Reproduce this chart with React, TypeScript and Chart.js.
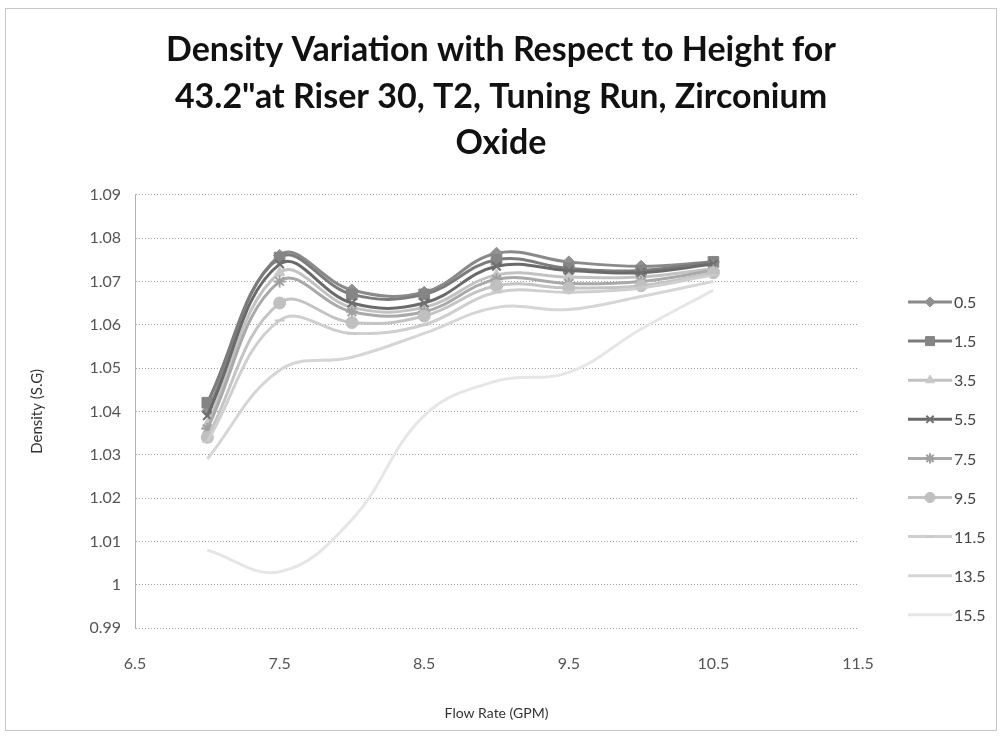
import React, { useEffect, useRef } from "react";
import { Chart, registerables } from "chart.js";
import { drawPoint } from "chart.js/helpers";

Chart.register(...registerables);

const flowRates = [7, 7.5, 8, 8.5, 9, 9.5, 10, 10.5];
const xTicks = [6.5, 7.5, 8.5, 9.5, 10.5, 11.5];

const heightLabels = ["0.5", "1.5", "3.5", "5.5", "7.5", "9.5", "11.5", "13.5", "15.5"];

const h0_5 = [1.040, 1.076, 1.068, 1.0675, 1.0765, 1.0745, 1.0735, 1.0745];
const h1_5 = [1.042, 1.0755, 1.067, 1.067, 1.075, 1.073, 1.0725, 1.0745];
const h3_5 = [1.037, 1.072, 1.064, 1.064, 1.0715, 1.071, 1.071, 1.073];
const h5_5 = [1.039, 1.074, 1.065, 1.065, 1.0735, 1.0725, 1.072, 1.074];
const h7_5 = [1.036, 1.070, 1.063, 1.063, 1.0705, 1.0695, 1.070, 1.0725];
const h9_5 = [1.034, 1.065, 1.0605, 1.062, 1.069, 1.0685, 1.069, 1.072];
const h11_5 = [1.033, 1.061, 1.058, 1.060, 1.0675, 1.0675, 1.0685, 1.0715];
const h13_5 = [1.029, 1.0495, 1.0525, 1.058, 1.064, 1.0635, 1.0665, 1.070];
const h15_5 = [1.008, 1.003, 1.015, 1.039, 1.047, 1.049, 1.059, 1.068];

const seriesValues = [h0_5, h1_5, h3_5, h5_5, h7_5, h9_5, h11_5, h13_5, h15_5];

const lineColors = ["#8a8a8a", "#7c7c7c", "#c2c2c2", "#6a6a6a", "#a9a9a9", "#c4c4c4", "#cfcfcf", "#d6d6d6", "#e6e6e6"];
const markerColors = ["#909090", "#858585", "#c8c8c8", "#707070", "#a0a0a0", "#c0c0c0", "#c8c8c8", "#d6d6d6", "#e6e6e6"];
const markerStyles = ["rectRot", "rect", "triangle", "crossRot", "star", "circle", "line", "circle", "circle"];
const markerRadius = [6, 7.5, 6, 6, 6, 6, 5, 0, 0];

const FONT = "Lato, 'Open Sans', sans-serif";

const legendPlugin = {
  id: "sideLegend",
  afterDraw(chart: any) {
    const ctx = chart.ctx;
    ctx.save();
    chart.data.datasets.forEach((ds: any, i: number) => {
      const y = 302 + i * 39.1;
      ctx.strokeStyle = ds.borderColor;
      ctx.lineWidth = 3;
      ctx.beginPath();
      ctx.moveTo(908, y);
      ctx.lineTo(952, y);
      ctx.stroke();
      if (ds.pointRadius > 0) {
        ctx.fillStyle = ds.pointBackgroundColor;
        ctx.strokeStyle = ds.pointBorderColor;
        ctx.lineWidth = ds.pointBorderWidth;
        drawPoint(
          ctx,
          { pointStyle: ds.pointStyle, radius: ds.pointRadius * 0.85, rotation: 0, borderWidth: ds.pointBorderWidth },
          930,
          y
        );
      }
      ctx.fillStyle = "#444";
      ctx.font = `16px ${FONT}`;
      ctx.textBaseline = "middle";
      ctx.textAlign = "left";
      ctx.fillText(ds.label, 954, y + 1);
    });
    ctx.restore();
  },
};

const borderPlugin = {
  id: "outerBorder",
  beforeDraw(chart: any) {
    const ctx = chart.ctx;
    ctx.save();
    ctx.fillStyle = "#ffffff";
    ctx.fillRect(0, 0, chart.width, chart.height);
    ctx.strokeStyle = "#c8c8c8";
    ctx.lineWidth = 1;
    ctx.strokeRect(5.5, 8.5, 991, 722);
    ctx.restore();
  },
};

export default function App() {
  const canvasRef = useRef<HTMLCanvasElement | null>(null);

  useEffect(() => {
    document.body.style.margin = "0";
    const canvas = canvasRef.current;
    if (!canvas) return;

    const datasets = heightLabels.map((label, i) => ({
      label,
      data: flowRates.map((x, j) => ({ x, y: seriesValues[i][j] })),
      borderColor: lineColors[i],
      backgroundColor: markerColors[i],
      borderWidth: 3,
      tension: 0.4,
      pointStyle: markerStyles[i],
      pointRadius: markerRadius[i],
      pointBackgroundColor: markerColors[i],
      pointBorderColor: markerColors[i],
      pointBorderWidth: markerStyles[i] === "crossRot" || markerStyles[i] === "star" || markerStyles[i] === "line" ? 2 : 1,
      fill: false,
      order: 9 - i,
      yAxisID: "y",
    }));

    const chart = new Chart(canvas, {
      type: "line",
      data: { datasets },
      plugins: [borderPlugin, legendPlugin],
      options: {
        animation: false,
        responsive: true,
        maintainAspectRatio: false,
        layout: { padding: { top: 4, left: 28, right: 28, bottom: 14 } },
        plugins: {
          legend: { display: false },
          tooltip: { enabled: false },
          title: {
            display: true,
            text: [
              "Density Variation with Respect to Height for",
              '43.2"at Riser 30, T2, Tuning Run, Zirconium',
              "Oxide",
            ],
            color: "#111",
            font: { family: FONT, size: 34, weight: "bold", lineHeight: 1.37 },
            padding: { top: 23, bottom: 28 },
          },
        },
        scales: {
          x: {
            type: "linear",
            min: 6.5,
            max: 11.5,
            afterBuildTicks: (scale: any) => {
              scale.ticks = xTicks.map((v) => ({ value: v }));
            },
            afterFit: (scale: any) => {
              scale.height = 736 - 628 - 14;
            },
            grid: { display: false, drawTicks: false },
            border: { display: false },
            ticks: {
              color: "#555",
              font: { family: FONT, size: 16 },
              padding: 26,
              maxRotation: 0,
              callback: (v: any) => String(v),
            },
            title: {
              display: true,
              text: "Flow Rate (GPM)",
              color: "#333",
              font: { family: FONT, size: 14 },
              padding: { top: 0, bottom: 0 },
            },
          },
          y: {
            position: "left",
            min: 0.99,
            max: 1.09,
            afterFit: (scale: any) => {
              scale.width = 135 - 28;
            },
            ticks: {
              stepSize: 0.01,
              color: "#555",
              font: { family: FONT, size: 16 },
              padding: 14,
              callback: (v: any) => String(Number(Number(v).toFixed(2))),
            },
            grid: {
              color: "#a0a0a0",
              lineWidth: 1,
              drawTicks: false,
            },
            border: { display: true, color: "#b0b0b0", dash: [1, 2] },
            title: {
              display: true,
              text: "Density (S.G)",
              color: "#333",
              font: { family: FONT, size: 15 },
              padding: { top: 0, bottom: 0 },
            },
          },
          legendSpace: {
            position: "right",
            display: true,
            min: 0,
            max: 1,
            afterFit: (scale: any) => {
              scale.width = 1002 - 858 - 28;
            },
            grid: { display: false, drawTicks: false },
            border: { display: false },
            ticks: { display: false },
          },
        },
      } as any,
    });

    return () => chart.destroy();
  }, []);

  return (
    <div style={{ width: 1002, height: 736, position: "relative" }}>
      <canvas ref={canvasRef} />
    </div>
  );
}
